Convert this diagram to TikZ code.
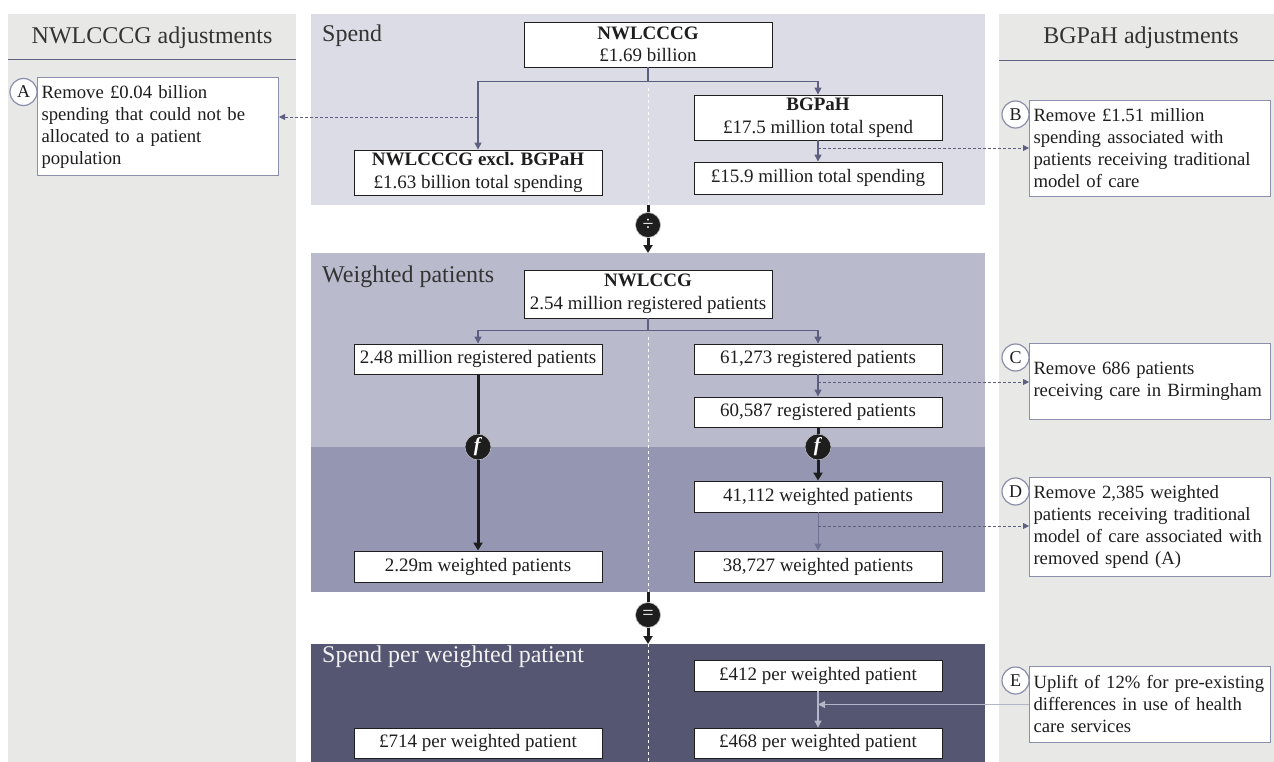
\documentclass[tikz,border=0pt]{standalone}
\usepackage{fontspec}
\setmainfont{Liberation Serif}
\usetikzlibrary{arrows.meta,calc}
\definecolor{sidebg}{HTML}{E8E8E6}
\definecolor{spendbg}{HTML}{DCDCE6}
\definecolor{wup}{HTML}{B9BBCD}
\definecolor{wlow}{HTML}{9597B2}
\definecolor{perbg}{HTML}{555672}
\definecolor{connc}{HTML}{5C5F80}
\definecolor{sideborder}{HTML}{8C8FAB}
\definecolor{hline}{HTML}{5E6280}
\definecolor{txt}{HTML}{1E1E1E}
\definecolor{lightconn}{HTML}{B3B5C9}
\definecolor{midconn}{HTML}{6F7295}
\definecolor{blk}{HTML}{1E1E1E}
\tikzset{
  mainbox/.style={draw=blk, fill=white, line width=0.9pt, minimum width=248pt, minimum height=#1, inner sep=2pt, align=center, font=\fontsize{19}{22.5}\selectfont, text=txt},
  sidebox/.style={draw=sideborder, fill=white, line width=1pt, text width=233pt, inner xsep=4pt, inner ysep=3pt, align=left, anchor=north west, minimum height=#1, font=\fontsize{18.7}{22}\selectfont, text=txt},
  badge/.style={circle, draw=sideborder, fill=white, line width=1.2pt, minimum size=27pt, inner sep=0pt, font=\fontsize{18}{18}\selectfont, text=txt},
  opcirc/.style={circle, fill=blk, draw=black!25, line width=0.6pt, minimum size=#1, inner sep=0pt, text=white, font=\fontsize{20}{20}\selectfont},
  connline/.style={draw=connc, line width=1.4pt},
  tri/.style={-{Triangle[width=7pt,length=7pt]}},
  smalltri/.style={-{Triangle[width=6pt,length=6pt]}},
  bigtri/.style={-{Triangle[width=9pt,length=8pt]}},
  dashconn/.style={draw=connc, line width=0.9pt, dash pattern=on 3pt off 2pt},
  thickblk/.style={draw=blk, line width=3pt},
  middash/.style={draw=white, line width=0.9pt, dash pattern=on 3pt off 3pt},
  heading/.style={inner sep=0pt, font=\fontsize{24}{24}\selectfont, text=black!80},
}
\begin{document}
\begin{tikzpicture}[x=1pt,y=-1pt]
\useasboundingbox (0,0) rectangle (1274,762);
\fill[white] (0,0) rectangle (1274,762);
% panels
\fill[sidebg] (8,14) rectangle (296,762);
\fill[sidebg] (999,14) rectangle (1274,762);
\fill[spendbg] (311,14) rectangle (985,205);
\fill[wup] (311,253) rectangle (985,446.5);
\fill[wlow] (311,446.5) rectangle (985,592);
\fill[perbg] (311,644) rectangle (985,762);
% centre dashed lines
\draw[middash] (648,88) -- (648,205);
\draw[middash] (648,337) -- (648,592);
\draw[middash] (648,644) -- (648,762);
% headings
\node[heading, anchor=base] (hl) at (152,44) {NWLCCCG adjustments};
\node[heading, anchor=base] (hr) at (1141,44) {BGPaH adjustments};
\draw[draw=hline, line width=1.3pt] (8,59.5) -- (296,59.5);
\draw[draw=hline, line width=1.3pt] (999,60.5) -- (1274,60.5);
\node[heading, anchor=base west] (lspend) at (322,41.5) {Spend};
\node[heading, anchor=base west] (lweight) at (322,282) {Weighted patients};
\node[heading, anchor=base west, text=white!95!black] (lper) at (322,662) {Spend per weighted patient};
% spend boxes
\node[mainbox=45pt] (nw) at (648,44.5) {\textbf{NWLCCCG}\\£1.69 billion};
\node[mainbox=45pt] (excl) at (478,172.5) {\textbf{NWLCCCG excl. BGPaH}\\£1.63 billion total spending};
\node[mainbox=45pt] (bg) at (818,117.5) {\textbf{BGPaH}\\£17.5 million total spend};
\node[mainbox=32pt] (bg2) at (818,178) {£15.9 million total spending};
% weighted boxes
\node[mainbox=48pt] (wn) at (648,294) {\textbf{NWLCCG}\\2.54 million registered patients};
\node[mainbox=30pt] (l1) at (478,359) {2.48 million registered patients};
\node[mainbox=30pt] (r1) at (818,359) {61,273 registered patients};
\node[mainbox=30pt] (r2) at (818,412) {60,587 registered patients};
\node[mainbox=31pt] (r3) at (818,496.5) {41,112 weighted patients};
\node[mainbox=31pt] (l2) at (478,566.5) {2.29m weighted patients};
\node[mainbox=31pt] (r4) at (818,566.5) {38,727 weighted patients};
% per patient boxes
\node[mainbox=31pt] (r5) at (818,675.5) {£412 per weighted patient};
\node[mainbox=30pt] (r6) at (818,743) {£468 per weighted patient};
\node[mainbox=30pt] (l3) at (478,743) {£714 per weighted patient};
% side boxes
\node[sidebox=97.5pt] (A) at (37,77.5) {Remove £0.04 billion\\spending that could not be\\allocated to a patient\\population};
\node[sidebox=96pt] (B) at (1029,100) {Remove £1.51 million\\spending associated with\\patients receiving traditional\\model of care};
\node[sidebox=76pt] (C) at (1029,343) {Remove 686 patients\\receiving care in Birmingham};
\node[sidebox=99pt] (D) at (1029,477) {Remove 2,385 weighted\\patients receiving traditional\\model of care associated with\\removed spend (A)};
\node[sidebox=76pt] (E) at (1029,666) {Uplift of 12\% for pre-existing\\differences in use of health\\care services};
\node[badge] (bA) at ($(A.north west)+(-13.5,14.5)$) {A};
\node[badge] (bB) at ($(B.north west)+(-13.5,14.5)$) {B};
\node[badge] (bC) at ($(C.north west)+(-13.5,14.5)$) {C};
\node[badge] (bD) at ($(D.north west)+(-13.5,14.5)$) {D};
\node[badge] (bE) at ($(E.north west)+(-13.5,14.5)$) {E};
% operator circles
\node[opcirc=25pt] (div) at (648,225) {÷};
\node[opcirc=25pt] (eq) at (648,615) {=};
\node[opcirc=26pt] (f1) at (478,447) {\textbf{\textit{f}}};
\node[opcirc=26pt] (f2) at (818,447) {\textbf{\textit{f}}};
\coordinate (sb) at (648,205);
\coordinate (wt) at (648,253);
\coordinate (wb) at (648,592);
\coordinate (pt) at (648,644);
% spend connectors
\draw[connline] (nw.south) -- ++(0,14) coordinate (j1);
\draw[connline,tri] (j1) -| (excl.north);
\draw[connline,tri] (j1) -| (bg.north);
\draw[connline,tri] (bg.south) -- (bg2.north);
\coordinate (a1) at (478,117);
\draw[dashconn,smalltri] (a1) -- (a1 -| A.east);
\coordinate (b1) at (818,148);
\draw[dashconn,smalltri] (b1) -- (b1 -| B.west);
% operators between panels
\draw[thickblk] (sb) -- (div.north);
\draw[thickblk,bigtri] (div.south) -- (wt);
\draw[thickblk] (wb) -- (eq.north);
\draw[thickblk,bigtri] (eq.south) -- (pt);
% weighted connectors
\draw[connline] (wn.south) -- ++(0,12) coordinate (j2);
\draw[connline,tri] (j2) -| (l1.north);
\draw[connline,tri] (j2) -| (r1.north);
\draw[connline,tri] (r1.south) -- (r2.north);
\coordinate (c1) at (818,382);
\draw[dashconn,smalltri] (c1) -- (c1 -| C.west);
\draw[thickblk] (l1.south) -- (f1.north);
\draw[thickblk,bigtri] (f1.south) -- (l2.north);
\draw[thickblk] (r2.south) -- (f2.north);
\draw[thickblk,bigtri] (f2.south) -- (r3.north);
\draw[draw=midconn, line width=1pt, tri] (r3.south) -- (r4.north);
\coordinate (d1) at (818,526);
\draw[dashconn,smalltri] (d1) -- (d1 -| D.west);
% per patient connectors
\draw[draw=lightconn, line width=1.2pt, tri] (r5.south) -- (r6.north);
\coordinate (e1) at (E.west -| r5.south);
\draw[draw=lightconn, line width=1.2pt, tri] (E.west) -- (e1);
\end{tikzpicture}
\end{document}
